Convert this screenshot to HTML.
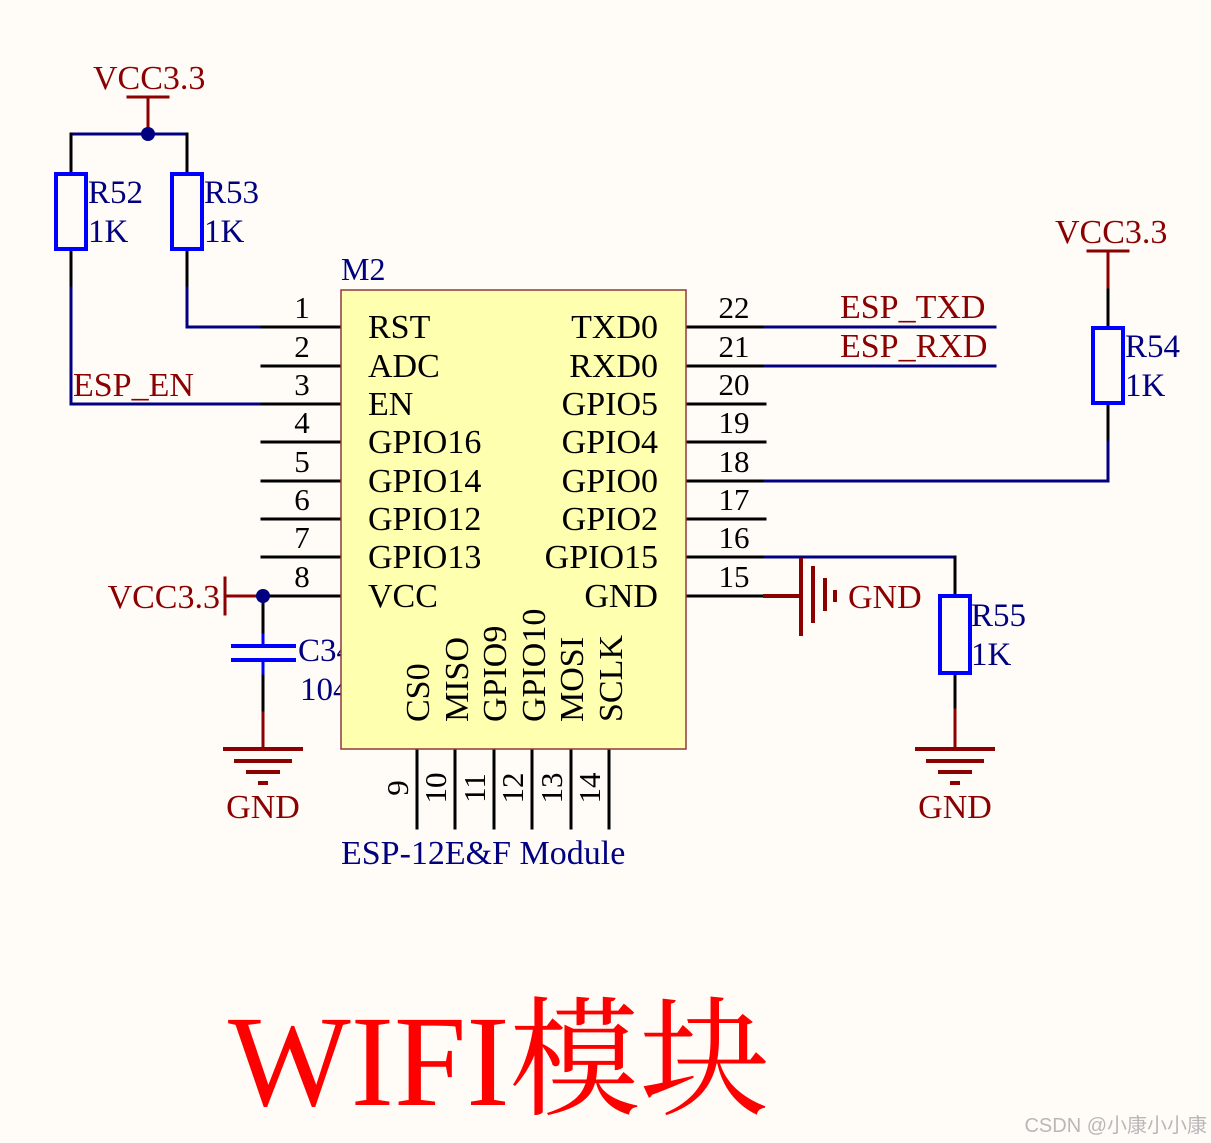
<!DOCTYPE html>
<html><head><meta charset="utf-8"><style>
html,body{margin:0;padding:0;background:#fffcf8;}
svg{display:block;}
text{font-family:"Liberation Serif","Noto Serif CJK SC",serif;}
</style></head><body>
<svg width="1211" height="1143" viewBox="0 0 1211 1143" xmlns="http://www.w3.org/2000/svg">
<rect width="1211" height="1143" fill="#fffcf8"/>
<g stroke-linecap="square" fill="none">
<line x1="128" y1="97" x2="168" y2="97" stroke="#8b0000" stroke-width="3"/>
<line x1="148" y1="97" x2="148" y2="134" stroke="#8b0000" stroke-width="3"/>
<polyline points="71,134 187,134" stroke="#000080" stroke-width="3"/>
<line x1="71" y1="134" x2="71" y2="173" stroke="#000" stroke-width="3"/>
<line x1="187" y1="134" x2="187" y2="173" stroke="#000" stroke-width="3"/>
<line x1="71" y1="250" x2="71" y2="288" stroke="#000" stroke-width="3"/>
<line x1="187" y1="250" x2="187" y2="288" stroke="#000" stroke-width="3"/>
<polyline points="71,288 71,404 262,404" stroke="#000080" stroke-width="3"/>
<polyline points="187,288 187,327 262,327" stroke="#000080" stroke-width="3"/>
<rect x="56" y="174" width="30" height="75" stroke="#0000ff" stroke-width="4"/>
<rect x="172" y="174" width="30" height="75" stroke="#0000ff" stroke-width="4"/>
<g stroke="#000" stroke-width="3">
<line x1="262" y1="327" x2="341" y2="327"/><line x1="262" y1="366" x2="341" y2="366"/>
<line x1="262" y1="404" x2="341" y2="404"/><line x1="262" y1="442" x2="341" y2="442"/>
<line x1="262" y1="481" x2="341" y2="481"/><line x1="262" y1="519" x2="341" y2="519"/>
<line x1="262" y1="557" x2="341" y2="557"/><line x1="262" y1="596" x2="341" y2="596"/>
<line x1="686" y1="327" x2="765" y2="327"/><line x1="686" y1="366" x2="765" y2="366"/>
<line x1="686" y1="404" x2="765" y2="404"/><line x1="686" y1="442" x2="765" y2="442"/>
<line x1="686" y1="481" x2="765" y2="481"/><line x1="686" y1="519" x2="765" y2="519"/>
<line x1="686" y1="557" x2="765" y2="557"/><line x1="686" y1="596" x2="765" y2="596"/>
<line x1="417" y1="749" x2="417" y2="828"/><line x1="455" y1="749" x2="455" y2="828"/>
<line x1="494" y1="749" x2="494" y2="828"/><line x1="532" y1="749" x2="532" y2="828"/>
<line x1="571" y1="749" x2="571" y2="828"/><line x1="609" y1="749" x2="609" y2="828"/>
</g>
<line x1="765" y1="327" x2="995" y2="327" stroke="#000080" stroke-width="3"/>
<line x1="765" y1="366" x2="995" y2="366" stroke="#000080" stroke-width="3"/>
<line x1="1088" y1="251" x2="1128" y2="251" stroke="#8b0000" stroke-width="3"/>
<line x1="1108" y1="251" x2="1108" y2="290" stroke="#8b0000" stroke-width="3"/>
<line x1="1108" y1="290" x2="1108" y2="327" stroke="#000" stroke-width="3"/>
<line x1="1108" y1="404" x2="1108" y2="442" stroke="#000" stroke-width="3"/>
<polyline points="1108,442 1108,481 765,481" stroke="#000080" stroke-width="3"/>
<rect x="1093" y="328" width="30" height="75" stroke="#0000ff" stroke-width="4"/>
<polyline points="765,557 955,557" stroke="#000080" stroke-width="3"/>
<line x1="955" y1="557" x2="955" y2="596" stroke="#000" stroke-width="3"/>
<line x1="955" y1="673" x2="955" y2="710" stroke="#000" stroke-width="3"/>
<line x1="955" y1="710" x2="955" y2="748" stroke="#8b0000" stroke-width="3"/>
<rect x="940" y="596" width="30" height="77" stroke="#0000ff" stroke-width="4"/>
<g stroke="#8b0000" stroke-width="4">
<line x1="917" y1="749" x2="993" y2="749"/><line x1="928" y1="761" x2="982" y2="761"/>
<line x1="940" y1="772" x2="970" y2="772"/><line x1="952" y1="783" x2="958" y2="783"/>
<line x1="765" y1="596" x2="801" y2="596"/>
<line x1="801" y1="560" x2="801" y2="634"/><line x1="813" y1="568" x2="813" y2="621"/>
<line x1="825" y1="580" x2="825" y2="609"/><line x1="835" y1="592" x2="835" y2="600"/>
</g>
<g stroke="#8b0000" stroke-width="3">
<line x1="225" y1="578" x2="225" y2="614"/><line x1="225" y1="596" x2="262" y2="596"/>
<line x1="263" y1="710" x2="263" y2="748"/>
</g>
<line x1="263" y1="596" x2="263" y2="635" stroke="#000" stroke-width="3"/>
<line x1="263" y1="673" x2="263" y2="710" stroke="#000" stroke-width="3"/>
<line x1="263" y1="635" x2="263" y2="645" stroke="#0000ff" stroke-width="3"/>
<line x1="263" y1="660" x2="263" y2="673" stroke="#0000ff" stroke-width="3"/>
<line x1="233" y1="646" x2="294" y2="646" stroke="#0000ff" stroke-width="4"/>
<line x1="233" y1="660" x2="294" y2="660" stroke="#0000ff" stroke-width="4"/>
<g stroke="#8b0000" stroke-width="4">
<line x1="225" y1="749" x2="301" y2="749"/><line x1="236" y1="761" x2="290" y2="761"/>
<line x1="248" y1="772" x2="278" y2="772"/><line x1="260" y1="783" x2="266" y2="783"/>
</g>
</g>
<circle cx="148" cy="134" r="7" fill="#000080"/>
<circle cx="263" cy="596" r="7" fill="#000080"/>
<text x="298" y="661" font-size="33" fill="#000080">C34</text>
<text x="300" y="700" font-size="33" fill="#000080">104</text>
<rect x="341" y="290" width="345" height="459" fill="#ffffb0" stroke="#8b3a3a" stroke-width="1.5"/>
<g font-size="34" fill="#000">
<text x="368" y="338">RST</text><text x="368" y="377">ADC</text><text x="368" y="415">EN</text>
<text x="368" y="453">GPIO16</text><text x="368" y="492">GPIO14</text><text x="368" y="530">GPIO12</text>
<text x="368" y="568">GPIO13</text><text x="368" y="607">VCC</text>
<g text-anchor="end">
<text x="658" y="338">TXD0</text><text x="658" y="377">RXD0</text><text x="658" y="415">GPIO5</text>
<text x="658" y="453">GPIO4</text><text x="658" y="492">GPIO0</text><text x="658" y="530">GPIO2</text>
<text x="658" y="568">GPIO15</text><text x="658" y="607">GND</text>
</g>
<text transform="translate(429,722) rotate(-90)">CS0</text>
<text transform="translate(468,722) rotate(-90)">MISO</text>
<text transform="translate(506,722) rotate(-90)">GPIO9</text>
<text transform="translate(545,722) rotate(-90)">GPIO10</text>
<text transform="translate(583,722) rotate(-90)">MOSI</text>
<text transform="translate(622,722) rotate(-90)">SCLK</text>
</g>
<g font-size="31" fill="#000" text-anchor="middle">
<text x="302" y="318">1</text><text x="302" y="357">2</text><text x="302" y="395">3</text><text x="302" y="433">4</text>
<text x="302" y="472">5</text><text x="302" y="510">6</text><text x="302" y="548">7</text><text x="302" y="587">8</text>
<text x="734" y="318">22</text><text x="734" y="357">21</text><text x="734" y="395">20</text><text x="734" y="433">19</text>
<text x="734" y="472">18</text><text x="734" y="510">17</text><text x="734" y="548">16</text><text x="734" y="587">15</text>
</g>
<g font-size="31" fill="#000" text-anchor="middle">
<text transform="translate(408,788) rotate(-90)">9</text>
<text transform="translate(446,788) rotate(-90)">10</text>
<text transform="translate(485,788) rotate(-90)">11</text>
<text transform="translate(523,788) rotate(-90)">12</text>
<text transform="translate(562,788) rotate(-90)">13</text>
<text transform="translate(600,788) rotate(-90)">14</text>
</g>
<text x="341" y="280" font-size="32" fill="#000080">M2</text>
<text x="341" y="864" font-size="34" fill="#000080">ESP-12E&amp;F Module</text>
<g font-size="33" fill="#000080">
<text x="88" y="203">R52</text><text x="88" y="242">1K</text>
<text x="204" y="203">R53</text><text x="204" y="242">1K</text>
<text x="1125" y="357">R54</text><text x="1125" y="396">1K</text>
<text x="971" y="626">R55</text><text x="971" y="665">1K</text>
</g>
<g font-size="34" fill="#8b0000">
<text x="93" y="89">VCC3.3</text>
<text x="1055" y="243">VCC3.3</text>
<text x="220" y="608" text-anchor="end">VCC3.3</text>
<text x="73" y="396">ESP_EN</text>
<text x="840" y="318">ESP_TXD</text>
<text x="840" y="357">ESP_RXD</text>
<text x="848" y="608">GND</text>
<text x="263" y="818" text-anchor="middle">GND</text>
<text x="955" y="818" text-anchor="middle">GND</text>
</g>
<text x="228" y="1105" font-size="130" fill="#ff0000">WIFI模块</text>
<text x="1207" y="1132" font-size="20" fill="#b8b8b8" text-anchor="end" style="font-family:'Liberation Sans','Noto Sans CJK SC',sans-serif">CSDN @小康小小康</text>
</svg>
</body></html>
